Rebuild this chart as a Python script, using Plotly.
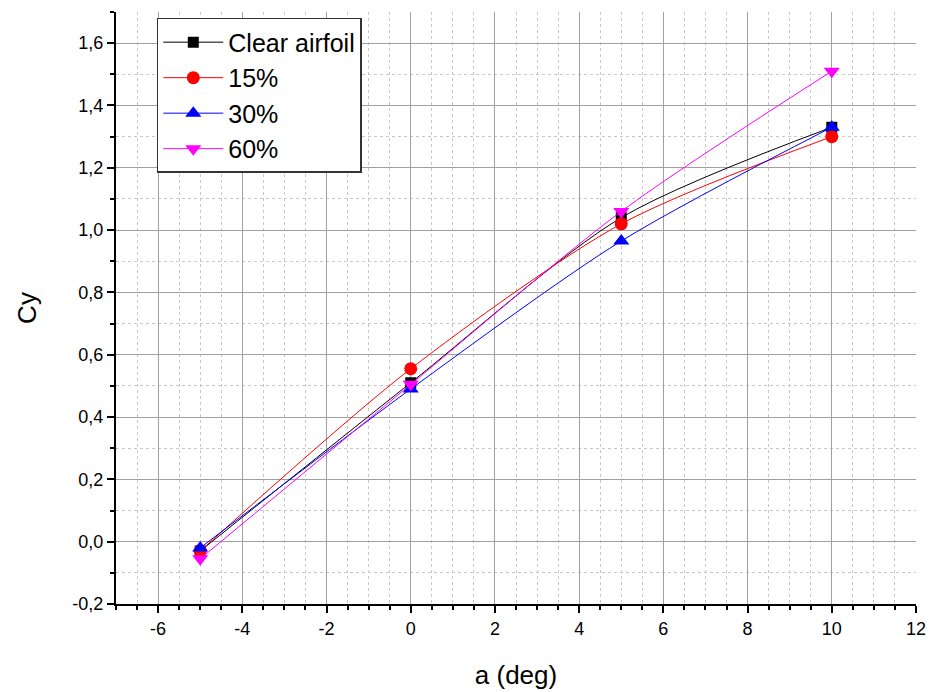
import plotly.graph_objects as go

angles = [-5, 0, 5, 10]
clear_airfoil = [-0.03, 0.51, 1.04, 1.33]
ice_15 = [-0.03, 0.555, 1.02, 1.30]
ice_30 = [-0.02, 0.49, 0.965, 1.33]
ice_60 = [-0.055, 0.505, 1.06, 1.51]

x_ticks = [-6, -4, -2, 0, 2, 4, 6, 8, 10, 12]
x_ticklabels = ["-6", "-4", "-2", "0", "2", "4", "6", "8", "10", "12"]
y_ticks = [-0.2, 0.0, 0.2, 0.4, 0.6, 0.8, 1.0, 1.2, 1.4, 1.6]
y_ticklabels = ["-0,2", "0,0", "0,2", "0,4", "0,6", "0,8", "1,0", "1,2", "1,4", "1,6"]

series = [
    ("Clear airfoil", clear_airfoil, "#000000", "square", 11),
    ("15%", ice_15, "#ff0000", "circle", 13),
    ("30%", ice_30, "#0000ff", "triangle-up", 14),
    ("60%", ice_60, "#ff00ff", "triangle-down", 14),
]

fig = go.Figure()
for name, vals, color, sym, size in series:
    fig.add_trace(go.Scatter(
        x=angles, y=vals, name=name, mode="lines+markers",
        line=dict(color=color, width=1, shape="spline", smoothing=0.8),
        marker=dict(symbol=sym, size=size, color=color),
    ))

axis_common = dict(
    showline=True, linecolor="black", linewidth=2,
    ticks="outside", ticklen=7, tickwidth=2, tickcolor="black",
    showgrid=True, gridcolor="#a0a0a0", gridwidth=1,
    zeroline=False, mirror=False, automargin=False,
    tickfont=dict(family="Arial", size=18, color="black"),
)

fig.update_layout(
    width=932, height=692,
    margin=dict(l=116, r=16, t=12, b=88),
    plot_bgcolor="white", paper_bgcolor="white",
    font=dict(family="Arial", color="black"),
    showlegend=True,
    legend=dict(
        x=0.051, y=0.99, xanchor="left", yanchor="top",
        bordercolor="#333333", borderwidth=1.5, bgcolor="white",
        font=dict(family="Arial", size=25, color="black"),
        itemwidth=60, tracegroupgap=0,
    ),
    xaxis=dict(
        range=[-7, 12], tickvals=x_ticks, ticktext=x_ticklabels,
        title=dict(text="a (deg)", font=dict(family="Arial", size=26), standoff=28),
        minor=dict(dtick=0.5, tick0=0, ticks="outside", ticklen=4, tickwidth=2,
                   tickcolor="black", showgrid=True, gridcolor="#c8c8c8",
                   griddash="dot", gridwidth=1),
        **axis_common,
    ),
    yaxis=dict(
        range=[-0.2, 1.7], tickvals=y_ticks, ticktext=y_ticklabels,
        title=dict(text="Cy", font=dict(family="Arial", size=26), standoff=28),
        minor=dict(dtick=0.1, tick0=0, ticks="outside", ticklen=4, tickwidth=2,
                   tickcolor="black", showgrid=True, gridcolor="#c8c8c8",
                   griddash="dot", gridwidth=1),
        **axis_common,
    ),
)

fig.write_html("out.html")
